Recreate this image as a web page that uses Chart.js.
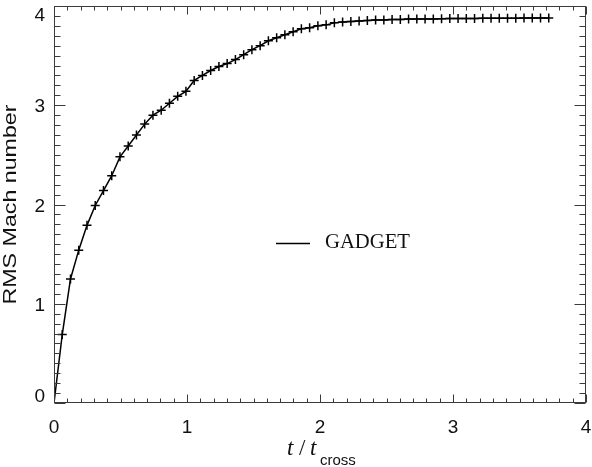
<!DOCTYPE html>
<html>
<head>
<meta charset="utf-8">
<script src="https://cdn.jsdelivr.net/npm/chart.js@4/dist/chart.umd.min.js"></script>
<style>
  html, body { margin: 0; padding: 0; background: #fff; }
  #caja { width: 592px; height: 467px; position: relative; }
</style>
</head>
<body>
<div id="caja"><canvas id="grafico"></canvas></div>
<script>
// tiempos en unidades de t_cross
const tiempos = [
  0, 0.062, 0.124, 0.186, 0.248, 0.31, 0.372, 0.434, 0.496, 0.558,
  0.62, 0.682, 0.744, 0.806, 0.868, 0.93, 0.992, 1.054, 1.116, 1.178,
  1.24, 1.302, 1.364, 1.426, 1.488, 1.55, 1.612, 1.674, 1.736, 1.798,
  1.86, 1.922, 1.984, 2.046, 2.108, 2.17, 2.232, 2.294, 2.356, 2.418,
  2.48, 2.542, 2.604, 2.666, 2.728, 2.79, 2.852, 2.914, 2.976, 3.038,
  3.1, 3.162, 3.224, 3.286, 3.348, 3.41, 3.472, 3.534, 3.596, 3.658, 3.72
];
// numero de Mach RMS (GADGET)
const mach = [
  0, 0.69, 1.25, 1.54, 1.79, 1.99, 2.14, 2.29, 2.48, 2.59,
  2.70, 2.81, 2.90, 2.95, 3.02, 3.09, 3.14, 3.25, 3.30, 3.35,
  3.39, 3.42, 3.46, 3.51, 3.56, 3.60, 3.65, 3.68, 3.71, 3.74,
  3.77, 3.78, 3.80, 3.81, 3.83, 3.84, 3.845, 3.85, 3.855, 3.86,
  3.86, 3.865, 3.865, 3.87, 3.87, 3.87, 3.87, 3.872, 3.873, 3.874,
  3.875, 3.875, 3.876, 3.876, 3.877, 3.877, 3.877, 3.878, 3.878, 3.878, 3.878
];
const ticksX = [0, 1, 2, 3, 4];
const ticksY = [0, 1, 2, 3, 4];
const etiquetaSerie = 'GADGET';

// ejes estilo IDL: marco, ticks hacia dentro, etiquetas y titulos
const ejes = {
  id: 'ejes',
  afterDraw(chart) {
    const { ctx, chartArea: a, scales: { x, y } } = chart;
    const linea = (x1, y1, x2, y2) => {
      ctx.beginPath(); ctx.moveTo(x1, y1); ctx.lineTo(x2, y2); ctx.stroke();
    };
    ctx.save();
    ctx.strokeStyle = '#3a3a3a';
    ctx.lineWidth = 1;
    const L = Math.round(a.left) + 0.5, R = Math.round(a.right) - 0.5;
    const T = Math.round(a.top) + 0.5, B = Math.round(a.bottom) - 0.5;
    ctx.strokeRect(L, T, R - L, B - T);

    // ticks menores cada 0.1
    for (let i = 0; i <= 40; i++) {
      const v = i / 10;
      const mayor = i % 10 === 0;
      const px = Math.round(x.getPixelForValue(v)) + 0.5;
      const lx = mayor ? 8 : 4;
      linea(px, B, px, B - lx);
      linea(px, T, px, T + lx);
      const py = Math.round(y.getPixelForValue(v)) + 0.5;
      const ly = mayor ? 11 : 6;
      linea(L, py, L + ly, py);
      linea(R, py, R - ly, py);
    }

    // etiquetas de los ticks
    ctx.fillStyle = '#111';
    ctx.font = '19px "Liberation Sans", Arial, sans-serif';
    ctx.textAlign = 'center';
    ctx.textBaseline = 'middle';
    ticksX.forEach(v => {
      const px = Math.min(x.getPixelForValue(v), chart.width - 6);
      ctx.fillText(String(v), px, 428);
    });
    ctx.textAlign = 'right';
    ticksY.forEach(v => {
      let py = y.getPixelForValue(v) + 2;
      py = Math.max(a.top + 10, Math.min(a.bottom - 6, py));
      ctx.fillText(String(v), 45, py);
    });

    // titulo eje Y
    ctx.save();
    ctx.translate(11, (a.top + a.bottom) / 2);
    ctx.rotate(-Math.PI / 2);
    ctx.font = '18px "Liberation Sans", Arial, sans-serif';
    const texto = 'RMS Mach number';
    const w = ctx.measureText(texto).width;
    ctx.scale(200 / w, 1);
    ctx.textAlign = 'center';
    ctx.fillText(texto, 0, 0);
    ctx.restore();

    // titulo eje X: t / t_cross
    ctx.textAlign = 'left';
    ctx.textBaseline = 'alphabetic';
    ctx.font = 'italic 23px "Liberation Serif", "Times New Roman", serif';
    ctx.fillText('t', 287, 455);
    ctx.font = '23px "Liberation Serif", "Times New Roman", serif';
    ctx.fillText('/', 299, 455);
    ctx.font = 'italic 23px "Liberation Serif", "Times New Roman", serif';
    ctx.fillText('t', 310, 455);
    ctx.font = '15px "Liberation Sans", Arial, sans-serif';
    ctx.fillText('cross', 320, 465);

    // leyenda
    ctx.strokeStyle = '#000';
    ctx.lineWidth = 1.5;
    linea(276, 243.5, 310, 243.5);
    ctx.font = '20px "Liberation Serif", "Times New Roman", serif';
    const wt = ctx.measureText(etiquetaSerie).width;
    ctx.save();
    ctx.translate(325, 248);
    ctx.scale(85 / wt, 1);
    ctx.fillText(etiquetaSerie, 0, 0);
    ctx.restore();

    ctx.restore();
  }
};

new Chart(document.getElementById('grafico'), {
  type: 'line',
  data: {
    datasets: [{
      label: etiquetaSerie,
      data: tiempos.map((t, i) => ({ x: t, y: mach[i] })),
      borderColor: '#000',
      borderWidth: 1.5,
      tension: 0,
      fill: false,
      pointStyle: 'cross',
      pointRadius: c => (c.dataIndex === 0 ? 0 : 4.5),
      pointBorderColor: '#000',
      pointBorderWidth: 1.5,
    }],
  },
  options: {
    responsive: true,
    maintainAspectRatio: false,
    animation: false,
    layout: { padding: { left: 54, top: 1, right: 4, bottom: 64 } },
    plugins: { legend: { display: false }, tooltip: { enabled: false } },
    scales: {
      x: { type: 'linear', min: 0, max: 4, display: false },
      y: { type: 'linear', min: 0, max: 4, display: false },
    },
  },
  plugins: [ejes],
});
</script>
</body>
</html>
